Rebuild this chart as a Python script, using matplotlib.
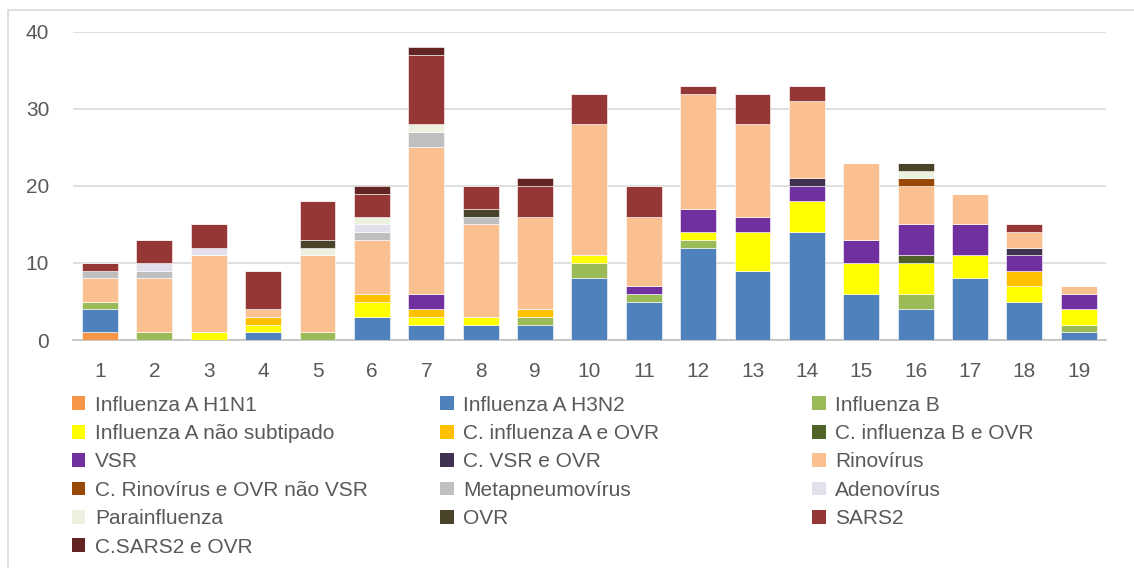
import numpy as np
import matplotlib
matplotlib.use("Agg")
import matplotlib.pyplot as plt
from matplotlib.patches import Rectangle, Patch

plt.rcParams['font.family'] = ['Liberation Sans', 'DejaVu Sans']

weeks = [str(i) for i in range(1, 20)]

h1n1        = [1, 0, 0, 0, 0, 0, 0, 0, 0, 0, 0, 0, 0, 0, 0, 0, 0, 0, 0]
h3n2        = [3, 0, 0, 1, 0, 3, 2, 2, 2, 8, 5, 12, 9, 14, 6, 4, 8, 5, 1]
inf_b       = [1, 1, 0, 0, 1, 0, 0, 0, 1, 2, 1, 1, 0, 0, 0, 2, 0, 0, 1]
inf_a_ns    = [0, 0, 1, 1, 0, 2, 1, 1, 0, 1, 0, 1, 5, 4, 4, 4, 3, 2, 2]
c_inf_a     = [0, 0, 0, 1, 0, 1, 1, 0, 1, 0, 0, 0, 0, 0, 0, 0, 0, 2, 0]
c_inf_b     = [0, 0, 0, 0, 0, 0, 0, 0, 0, 0, 0, 0, 0, 0, 0, 1, 0, 0, 0]
vsr         = [0, 0, 0, 0, 0, 0, 2, 0, 0, 0, 1, 3, 2, 2, 3, 4, 4, 2, 2]
c_vsr       = [0, 0, 0, 0, 0, 0, 0, 0, 0, 0, 0, 0, 0, 1, 0, 0, 0, 1, 0]
rino        = [3, 7, 10, 1, 10, 7, 19, 12, 12, 17, 9, 15, 12, 10, 10, 5, 4, 2, 1]
c_rino      = [0, 0, 0, 0, 0, 0, 0, 0, 0, 0, 0, 0, 0, 0, 0, 1, 0, 0, 0]
metapneumo  = [1, 1, 0, 0, 0, 1, 2, 1, 0, 0, 0, 0, 0, 0, 0, 0, 0, 0, 0]
adeno       = [0, 1, 1, 0, 0, 1, 0, 0, 0, 0, 0, 0, 0, 0, 0, 0, 0, 0, 0]
parainf     = [0, 0, 0, 0, 1, 1, 1, 0, 0, 0, 0, 0, 0, 0, 0, 1, 0, 0, 0]
ovr         = [0, 0, 0, 0, 1, 0, 0, 1, 0, 0, 0, 0, 0, 0, 0, 1, 0, 0, 0]
sars2       = [1, 3, 3, 5, 5, 3, 9, 3, 4, 4, 4, 1, 4, 2, 0, 0, 0, 1, 0]
c_sars2     = [0, 0, 0, 0, 0, 1, 1, 0, 1, 0, 0, 0, 0, 0, 0, 0, 0, 0, 0]

labels = ["Influenza A H1N1", "Influenza A H3N2", "Influenza B",
          "Influenza A não subtipado", "C. influenza A e OVR", "C. influenza B e OVR",
          "VSR", "C. VSR e OVR", "Rinovírus",
          "C. Rinovírus e OVR não VSR", "Metapneumovírus", "Adenovírus",
          "Parainfluenza", "OVR", "SARS2",
          "C.SARS2 e OVR"]
series = [h1n1, h3n2, inf_b, inf_a_ns, c_inf_a, c_inf_b, vsr, c_vsr, rino,
          c_rino, metapneumo, adeno, parainf, ovr, sars2, c_sars2]
colors = ["#F79646", "#4F81BD", "#9BBB59", "#FFFF00", "#FFC000", "#4F6228",
          "#7030A0", "#403151", "#FAC090", "#984807", "#BFBFBF", "#E4DFEC",
          "#EBF1DE", "#494429", "#953735", "#632523"]

fig = plt.figure(figsize=(11.34, 5.68), dpi=100)
ax = fig.add_axes([0.0642, 0.4014, 0.9111, 0.5423])

x = np.arange(len(weeks))
bottom = np.zeros(len(weeks))
for vals, lab, col in zip(series, labels, colors):
    v = np.array(vals, dtype=float)
    ax.bar(x, v, 0.66, bottom=bottom, color=col, edgecolor='white',
           linewidth=0.4, label=lab, zorder=3)
    bottom += v

ax.set_xlim(-0.5, len(weeks) - 0.5)
ax.set_ylim(0, 40)
ax.set_yticks([0, 10, 20, 30, 40])
ax.set_xticks(x)
ax.set_xticklabels(weeks)
ax.yaxis.grid(True, color='#D9D9D9', linewidth=1.2, zorder=0)
for s in ['top', 'right', 'left']:
    ax.spines[s].set_visible(False)
ax.spines['bottom'].set_color('#BFBFBF')
ax.spines['bottom'].set_linewidth(1.2)
ax.tick_params(axis='both', length=0, labelsize=15, colors='#595959')
ax.tick_params(axis='y', pad=17)
ax.tick_params(axis='x', pad=16)

# legend in three columns, row-major order as in the original
col_x = [0.056, 0.381, 0.709]
for c in range(3):
    idx = list(range(c, len(labels), 3))
    handles = [Patch(facecolor=colors[i], edgecolor='none') for i in idx]
    fig.legend(handles, [labels[i] for i in idx], loc='upper left',
               bbox_to_anchor=(col_x[c], 0.318), frameon=False, fontsize=15,
               labelcolor='#595959', handlelength=0.65, handleheight=0.65,
               handletextpad=0.45, labelspacing=0.45, borderaxespad=0)

fig.patches.append(Rectangle((0.007, -0.05), 1.1, 1.0324, transform=fig.transFigure,
                             fill=False, edgecolor='#D9D9D9', linewidth=1.2))

fig.savefig("out.png", dpi=100)
